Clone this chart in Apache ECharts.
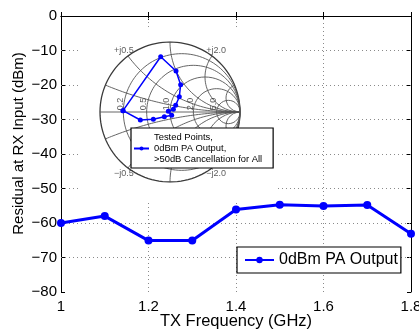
<!DOCTYPE html>
<html>
<head>
<meta charset="utf-8">
<script src="https://cdn.jsdelivr.net/npm/echarts@6/dist/echarts.min.js"></script>
<style>
  html, body { margin: 0; padding: 0; background: #fff; }
  #chart { width: 419px; height: 331px; }
</style>
</head>
<body>
<div id="chart"></div>
<script>
// main plot data
const freqs = [1.0, 1.1, 1.2, 1.3, 1.4, 1.5, 1.6, 1.7, 1.8];
const residual = [-60, -58, -65.1, -65.1, -56.1, -54.7, -55.1, -54.8, -63.1];

// inner grid line positions of the main plot
const xGridTicks = [1.2, 1.4, 1.6];
const yGridTicks = [-70, -60, -50, -40, -30, -20, -10];
// area hidden behind the smith inset, in main-plot data units
const insetXRange = [1.043, 1.496];
const insetYRange = [-54.2, -3.2];

// smith chart inset: tested points (reflection coefficient, re / im)
const gammaRe = [-0.671, -0.424, -0.238, -0.081, 0.024, -0.024, 0.048, 0.081, 0.133, 0.152, 0.086, -0.133, -0.671];
const gammaIm = [0.019, -0.114, -0.105, -0.067, -0.048, 0.01, 0.038, 0.095, 0.219, 0.39, 0.586, 0.79, 0.019];

// smith grid values + labels
const resValues = [0.2, 0.5, 1, 2, 5];
const resLabels = ['0.2', '0.5', '1.0', '2.0', '5.0'];
const reactValues = [0.2, 0.5, 1, 2, 5];
const reactLabels = ['j0.2', 'j0.5', 'j1.0', 'j2.0', 'j5.0'];

const FONT = 'Liberation Sans, Arial, Helvetica, sans-serif';
const mainName = '0dBm PA Output';
const insetName = 'Tested Points,\n0dBm PA Output,\n>50dB Cancellation for All';

// dotted grid of the main plot, interrupted where the inset sits
const gridSegments = [];
yGridTicks.forEach((y) => {
  if (y > insetYRange[0] && y < insetYRange[1]) {
    gridSegments.push([{ coord: [1, y] }, { coord: [insetXRange[0], y] }]);
    gridSegments.push([{ coord: [insetXRange[1], y] }, { coord: [1.8, y] }]);
  } else {
    gridSegments.push([{ coord: [1, y] }, { coord: [1.8, y] }]);
  }
});
xGridTicks.forEach((x) => {
  if (x > insetXRange[0] && x < insetXRange[1]) {
    gridSegments.push([{ coord: [x, -80] }, { coord: [x, insetYRange[0]] }]);
    gridSegments.push([{ coord: [x, insetYRange[1]] }, { coord: [x, 0] }]);
  } else {
    gridSegments.push([{ coord: [x, -80] }, { coord: [x, 0] }]);
  }
});

// z -> gamma
function toGamma(r, x) {
  const d = (r + 1) * (r + 1) + x * x;
  return [(r * r + x * x - 1) / d, (2 * x) / d];
}

function circlePts(cx, cy, rad) {
  const pts = [];
  for (let a = 0; a <= 360; a += 3) {
    const t = a * Math.PI / 180;
    pts.push([cx + rad * Math.cos(t), cy + rad * Math.sin(t)]);
  }
  return pts;
}

function arcPts(x) {
  const pts = [];
  for (let i = 0; i < 90; i++) {
    const r = Math.tan(i * Math.PI / 180);
    pts.push(toGamma(r, x));
  }
  pts.push([1, 0]);
  return pts;
}

const gridLineStyle = { color: '#555', width: 0.9 };
const smithSeries = [];

function addGridLine(data, style) {
  smithSeries.push({
    type: 'line',
    xAxisIndex: 2,
    yAxisIndex: 2,
    z: 3,
    data: data,
    showSymbol: false,
    silent: true,
    lineStyle: style,
    animation: false
  });
}

// outer circle + real axis
addGridLine(circlePts(0, 0, 1), { color: '#3a3a3a', width: 1.3 });
addGridLine([[-1, 0], [1, 0]], gridLineStyle);
resValues.forEach((r) => {
  addGridLine(circlePts(r / (1 + r), 0, 1 / (1 + r)), gridLineStyle);
});
reactValues.forEach((x) => {
  addGridLine(arcPts(x), gridLineStyle);
  addGridLine(arcPts(-x), gridLineStyle);
});

// labels around the smith chart
const labelData = [];
resValues.forEach((r, i) => {
  const g = (r - 1) / (r + 1);
  labelData.push({
    name: resLabels[i],
    value: [g - 0.045, 0.025],
    label: { rotate: 90, align: 'left', verticalAlign: 'middle' }
  });
});
reactValues.forEach((x, i) => {
  const up = toGamma(0, x);
  labelData.push({ name: '+' + reactLabels[i], value: [up[0] * 1.1, up[1] * 1.1] });
  labelData.push({ name: '\u2212' + reactLabels[i], value: [up[0] * 1.1, -up[1] * 1.1] });
});
labelData.push({ name: '0.0', value: [-1.12, 0] });
labelData.push({ name: '\u221e', value: [1.07, 0], label: { rotate: 90 } });

smithSeries.push({
  type: 'scatter',
  xAxisIndex: 2,
  yAxisIndex: 2,
  z: 4,
  data: labelData,
  symbolSize: 0,
  silent: true,
  itemStyle: { color: 'transparent' },
  label: {
    show: true,
    position: 'inside',
    formatter: '{b}',
    fontFamily: FONT,
    fontSize: 9,
    color: '#333'
  },
  animation: false
});

smithSeries.push({
  name: insetName,
  type: 'line',
  xAxisIndex: 2,
  yAxisIndex: 2,
  z: 5,
  data: gammaRe.map((re, i) => [re, gammaIm[i]]),
  symbol: 'circle',
  symbolSize: 5,
  color: '#0000ff',
  lineStyle: { width: 1.5, color: '#0000ff' },
  itemStyle: { color: '#0000ff' },
  animation: false
});

const chart = echarts.init(document.getElementById('chart'), null, { renderer: 'canvas' });

const dotted = { color: '#8a8a8a', width: 1, type: [1, 3] };
const axisLine = { show: true, lineStyle: { color: '#000', width: 1 } };
const tickIn = { show: true, inside: true, length: 4, lineStyle: { color: '#000' } };

const option = {
  animation: false,
  backgroundColor: '#fff',
  textStyle: { fontFamily: FONT },
  grid: [
    { left: 61, top: 16, width: 350, height: 276, outerBoundsMode: 'none' },
    { left: 100, top: 42, width: 140, height: 140, outerBoundsMode: 'none' }
  ],
  legend: [
    {
      data: [mainName],
      left: 237,
      top: 247,
      orient: 'vertical',
      backgroundColor: '#fff',
      borderColor: '#000',
      borderWidth: 1.2,
      padding: [5, 3, 5, 7],
      itemWidth: 29,
      itemHeight: 8,
      textStyle: { fontFamily: FONT, fontSize: 16, color: '#000' },
      z: 10
    },
    {
      data: [insetName],
      left: 131,
      top: 128,
      orient: 'vertical',
      backgroundColor: '#fff',
      borderColor: '#000',
      borderWidth: 1.2,
      padding: [4, 11, 3, 2],
      itemWidth: 15,
      itemHeight: 5,
      textStyle: { fontFamily: FONT, fontSize: 9.4, lineHeight: 11, color: '#000' },
      z: 10
    }
  ],
  xAxis: [
    {
      gridIndex: 0,
      type: 'value',
      min: 1,
      max: 1.8,
      interval: 0.2,
      axisLine: axisLine,
      axisTick: tickIn,
      splitLine: { show: false },
      axisLabel: {
        color: '#000',
        fontSize: 15,
        margin: 7,
        formatter: (v) => String(+v.toFixed(1))
      },
      name: 'TX Frequency (GHz)',
      nameLocation: 'middle',
      nameGap: 21,
      nameMoveOverlap: false,
      nameTextStyle: { color: '#000', fontSize: 16.5 }
    },
    {
      gridIndex: 0,
      type: 'value',
      position: 'top',
      min: 1,
      max: 1.8,
      interval: 0.2,
      axisLine: axisLine,
      axisTick: tickIn,
      axisLabel: { show: false },
      splitLine: { show: false }
    },
    { gridIndex: 1, type: 'value', min: -1, max: 1, show: false }
  ],
  yAxis: [
    {
      gridIndex: 0,
      type: 'value',
      min: -80,
      max: 0,
      interval: 10,
      axisLine: axisLine,
      axisTick: tickIn,
      splitLine: { show: false },
      axisLabel: {
        color: '#000',
        fontSize: 15,
        margin: 4,
        formatter: (v) => String(v).replace('-', '\u2212')
      },
      name: 'Residual at RX Input (dBm)',
      nameLocation: 'middle',
      nameGap: 35,
      nameMoveOverlap: false,
      nameTextStyle: { color: '#000', fontSize: 15, padding: [0, 0, 0, 21] }
    },
    {
      gridIndex: 0,
      type: 'value',
      position: 'right',
      min: -80,
      max: 0,
      interval: 10,
      axisLine: axisLine,
      axisTick: tickIn,
      axisLabel: { show: false },
      splitLine: { show: false }
    },
    { gridIndex: 1, type: 'value', min: -1, max: 1, show: false }
  ],
  series: [
    {
      name: mainName,
      type: 'line',
      xAxisIndex: 0,
      yAxisIndex: 0,
      data: freqs.map((f, i) => [f, residual[i]]),
      symbol: 'circle',
      symbolSize: 8,
      color: '#0000ff',
      lineStyle: { width: 3, color: '#0000ff' },
      itemStyle: { color: '#0000ff' },
      z: 2,
      markLine: {
        silent: true,
        z: 1,
        animation: false,
        symbol: ['none', 'none'],
        label: { show: false },
        lineStyle: dotted,
        emphasis: { disabled: true },
        data: gridSegments
      }
    }
  ].concat(smithSeries)
};

chart.setOption(option);
</script>
</body>
</html>
